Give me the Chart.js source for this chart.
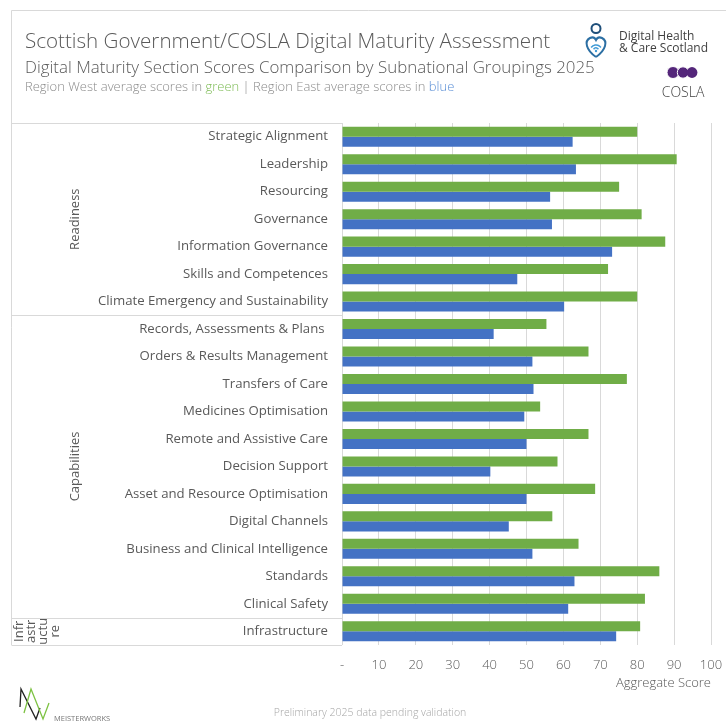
<!DOCTYPE html>
<html>
<head>
<meta charset="utf-8">
<title>Digital Maturity Section Scores</title>
<script src="https://cdn.jsdelivr.net/npm/chart.js@4.4.1/dist/chart.umd.min.js"></script>
<style>
    body { margin: 0; background: #fff; }
    #grafico { display: block; }
</style>
</head>
<body>
<canvas id="grafico" width="726" height="724"></canvas>
<script>
// sections, in the order they run down the chart
const secoes = [
    'Strategic Alignment',
    'Leadership',
    'Resourcing',
    'Governance',
    'Information Governance',
    'Skills and Competences',
    'Climate Emergency and Sustainability',
    'Records, Assessments & Plans ',
    'Orders & Results Management',
    'Transfers of Care',
    'Medicines Optimisation',
    'Remote and Assistive Care',
    'Decision Support',
    'Asset and Resource Optimisation',
    'Digital Channels',
    'Business and Clinical Intelligence',
    'Standards',
    'Clinical Safety',
    'Infrastructure'
];

// average scores per region
const notas_west = [80.0, 90.7, 75.1, 81.2, 87.6, 72.1, 80.0, 55.4, 66.8, 77.2, 53.7, 66.8, 58.4, 68.6, 57.0, 64.1, 86.0, 82.1, 80.8];
const notas_east = [62.5, 63.4, 56.4, 56.9, 73.2, 47.5, 60.2, 41.1, 51.6, 51.9, 49.4, 50.0, 40.2, 50.0, 45.2, 51.6, 63.0, 61.3, 74.3];

// groups on the left: text lines (wrapped as they appear) and how many sections each holds
const grupos_linhas = [['Readiness'], ['Capabilities'], ['Infr', 'astr', 'uctu', 're']];
const grupos_qtd = [7, 11, 1];

const ticks_x = [0, 10, 20, 30, 40, 50, 60, 70, 80, 90, 100];

const cor_verde = '#70ad47';
const cor_azul = '#4472c4';
const cor_texto = '#595959';
const cor_linha = '#d9d9d9';
const fonte = '"Open Sans", "Liberation Sans", sans-serif';

// header, logos, group table and footer
const decoracao = {
    id: 'decoracao',
    beforeDraw(chart) {
        const ctx = chart.ctx;
        ctx.save();
        ctx.fillStyle = '#fff';
        ctx.fillRect(0, 0, chart.width, chart.height);
        ctx.restore();
    },
    afterDraw(chart) {
        const ctx = chart.ctx;
        const area = chart.chartArea;
        const y = chart.scales.y;
        ctx.save();

        // outer frame
        ctx.strokeStyle = cor_linha;
        ctx.lineWidth = 1;
        ctx.beginPath();
        ctx.moveTo(726, 10.5);
        ctx.lineTo(11.5, 10.5);
        ctx.lineTo(11.5, area.bottom);
        ctx.stroke();

        // group separators
        const limites = [area.top];
        let idx = 0;
        grupos_qtd.forEach(function (q) {
            idx += q;
            if (idx < secoes.length) {
                limites.push((y.getPixelForValue(idx - 1) + y.getPixelForValue(idx)) / 2);
            } else {
                limites.push(area.bottom);
            }
        });
        ctx.beginPath();
        limites.forEach(function (ly) {
            const yy = Math.round(ly) + 0.5;
            ctx.moveTo(11.5, yy);
            ctx.lineTo(area.left, yy);
        });
        ctx.stroke();

        // rotated group names
        ctx.fillStyle = cor_texto;
        ctx.font = '13px ' + fonte;
        ctx.textAlign = 'center';
        ctx.textBaseline = 'middle';
        grupos_linhas.forEach(function (linhas, i) {
            const cy = (limites[i] + limites[i + 1]) / 2;
            linhas.forEach(function (txt, k) {
                const cx = linhas.length === 1 ? 75 : 19 + 12 * k;
                ctx.save();
                ctx.translate(cx, cy);
                ctx.rotate(-Math.PI / 2);
                ctx.fillText(txt, 0, 0);
                ctx.restore();
            });
        });

        // titles
        ctx.textAlign = 'left';
        ctx.textBaseline = 'alphabetic';
        ctx.fillStyle = cor_texto;
        ctx.font = '300 20.6px ' + fonte;
        ctx.fillText('Scottish Government/COSLA Digital Maturity Assessment', 25, 48);
        ctx.font = '300 16.9px ' + fonte;
        ctx.fillText('Digital Maturity Section Scores Comparison by Subnational Groupings 2025', 25, 73);

        // legend line with coloured words
        const partes = [
            ['Region West average scores in ', '#8c8c8c'],
            ['green', '#7dbb55'],
            [' | ', '#8c8c8c'],
            ['Region East average scores in ', '#8c8c8c'],
            ['blue', '#5b8fd6']
        ];
        ctx.font = '300 13px ' + fonte;
        let px = 25;
        partes.forEach(function (p) {
            ctx.fillStyle = p[1];
            ctx.fillText(p[0], px, 91);
            px += ctx.measureText(p[0]).width;
        });

        // Digital Health & Care Scotland mark
        ctx.strokeStyle = '#1f4f7a';
        ctx.lineWidth = 2;
        ctx.beginPath();
        ctx.arc(596, 28.5, 4.5, 0, Math.PI * 2);
        ctx.stroke();
        ctx.strokeStyle = '#2c6fa3';
        ctx.beginPath();
        ctx.moveTo(596, 57);
        ctx.bezierCurveTo(586, 50, 584, 41, 590, 38);
        ctx.bezierCurveTo(593, 36.5, 595, 38, 596, 40);
        ctx.bezierCurveTo(597, 38, 599, 36.5, 602, 38);
        ctx.bezierCurveTo(608, 41, 606, 50, 596, 57);
        ctx.stroke();
        ctx.strokeStyle = '#3f9ad6';
        ctx.lineWidth = 1.5;
        ctx.beginPath();
        ctx.arc(596, 51, 6, Math.PI * 1.2, Math.PI * 1.8);
        ctx.stroke();
        ctx.beginPath();
        ctx.arc(596, 51, 3, Math.PI * 1.2, Math.PI * 1.8);
        ctx.stroke();
        ctx.fillStyle = '#3f9ad6';
        ctx.beginPath();
        ctx.arc(596, 51, 1.2, 0, Math.PI * 2);
        ctx.fill();

        ctx.fillStyle = '#404040';
        ctx.font = '12px ' + fonte;
        ctx.fillText('Digital Health', 619, 40);
        ctx.fillText('& Care Scotland', 619, 52);

        // COSLA mark
        ctx.fillStyle = '#54267a';
        [673, 683, 692].forEach(function (cx, i) {
            ctx.beginPath();
            ctx.arc(cx, 72.5, 6 - i * 0.3, 0, Math.PI * 2);
            ctx.fill();
            if (i < 2) {
                ctx.strokeStyle = '#fff';
                ctx.lineWidth = 1;
                ctx.stroke();
            }
        });
        ctx.fillStyle = '#404040';
        ctx.font = '300 14px ' + fonte;
        ctx.textAlign = 'center';
        ctx.fillText('COSLA', 683, 97);

        // footer
        ctx.fillStyle = '#a6a6a6';
        ctx.font = '300 10.5px ' + fonte;
        ctx.fillText('Preliminary 2025 data pending validation', 370, 716);

        // Meisterworks mark
        ctx.lineWidth = 1.3;
        ctx.strokeStyle = '#222';
        ctx.beginPath();
        ctx.moveTo(20, 707);
        ctx.lineTo(21, 689);
        ctx.lineTo(36, 719);
        ctx.lineTo(40, 708);
        ctx.stroke();
        ctx.strokeStyle = '#7dc242';
        ctx.beginPath();
        ctx.moveTo(24, 713);
        ctx.lineTo(31, 689);
        ctx.lineTo(43, 719);
        ctx.lineTo(49, 703);
        ctx.stroke();
        ctx.fillStyle = '#777';
        ctx.font = '7.5px ' + fonte;
        ctx.textAlign = 'left';
        ctx.fillText('MEISTERWORKS', 54, 721);

        ctx.restore();
    }
};

new Chart(document.getElementById('grafico'), {
    type: 'bar',
    data: {
        labels: secoes,
        datasets: [
            {
                label: 'Region West',
                data: notas_west,
                backgroundColor: cor_verde,
                barPercentage: 1,
                categoryPercentage: 0.73
            },
            {
                label: 'Region East',
                data: notas_east,
                backgroundColor: cor_azul,
                barPercentage: 1,
                categoryPercentage: 0.73
            }
        ]
    },
    options: {
        indexAxis: 'y',
        responsive: false,
        animation: false,
        layout: { padding: { top: 123, left: 0, right: 15, bottom: 0 } },
        plugins: {
            legend: { display: false },
            title: { display: false },
            tooltip: { enabled: false }
        },
        scales: {
            x: {
                min: 0,
                max: 100,
                afterFit: function (scale) {
                    scale.height = 79;
                    scale.paddingLeft = 0;
                    scale.paddingRight = 0;
                },
                afterBuildTicks: function (scale) {
                    scale.ticks = ticks_x.map(function (v) { return { value: v }; });
                },
                grid: { color: cor_linha, drawTicks: false },
                border: { display: false },
                ticks: {
                    padding: 12,
                    color: cor_texto,
                    font: { family: fonte, size: 13, weight: 300 },
                    callback: function (v) { return v === 0 ? '-' : v; }
                },
                title: {
                    display: true,
                    text: 'Aggregate Score',
                    align: 'end',
                    color: cor_texto,
                    font: { family: fonte, size: 13, weight: 300 },
                    padding: { top: 0, bottom: 33 }
                }
            },
            y: {
                afterFit: function (scale) { scale.width = 342; },
                grid: { display: false, drawTicks: false },
                border: { display: false },
                ticks: {
                    autoSkip: false,
                    padding: 14,
                    color: cor_texto,
                    font: { family: fonte, size: 13.2 }
                }
            }
        }
    },
    plugins: [decoracao]
});
</script>
</body>
</html>
